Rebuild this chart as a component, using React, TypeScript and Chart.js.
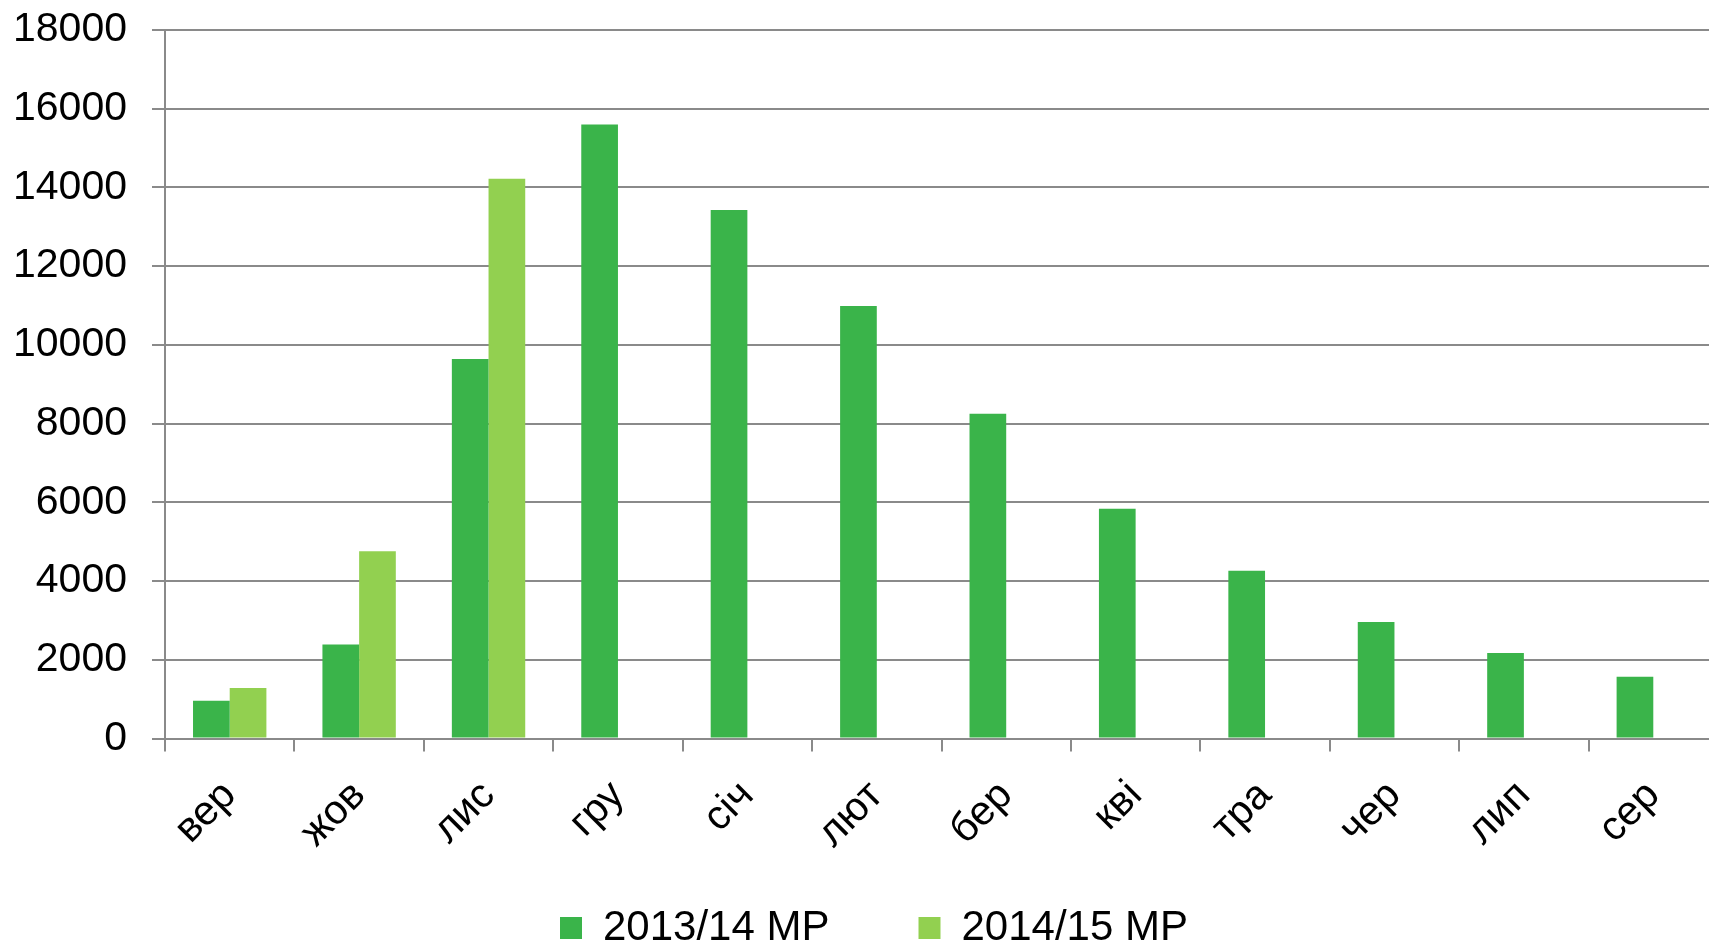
import React, { useEffect, useRef } from "react";
import { Chart, registerables } from "chart.js";

Chart.register(...registerables);

const categories = ["вер", "жов", "лис", "гру", "січ", "лют", "бер", "кві", "тра", "чер", "лип", "сер"];
const series2013 = [960, 2390, 9640, 15600, 13430, 10990, 8250, 5840, 4260, 2960, 2170, 1570];
const series2014: (number | null)[] = [1280, 4760, 14220, null, null, null, null, null, null, null, null, null];
const seriesNames = ["2013/14 МР", "2014/15 МР"];
const yTicks = { min: 0, max: 18000, step: 2000 };

const FONT = '"Liberation Sans", Arial, sans-serif';
const GRID = "#8a8a8a";

const unclip = {
  id: "unclip",
  afterLayout(chart: any) {
    const x = chart.scales.x;
    x.bottom = x.top + 160;
    const y = chart.scales.y;
    y.left = 0;
  },
};

export default function App() {
  const ref = useRef<HTMLCanvasElement>(null);

  useEffect(() => {
    document.body.style.margin = "0";
    const ctx = ref.current!;
    const chart = new Chart(ctx, {
      type: "bar",
      data: {
        labels: categories,
        datasets: [
          { label: seriesNames[0], data: series2013, backgroundColor: "#3AB44A" },
          { label: seriesNames[1], data: series2014, backgroundColor: "#92D050" },
        ],
      },
      plugins: [unclip],
      options: {
        responsive: false,
        animation: false,
        devicePixelRatio: 1,
        layout: { padding: { left: 30, right: 2, top: 30, bottom: 1 } },
        datasets: { bar: { categoryPercentage: 0.567, barPercentage: 1 } },
        plugins: {
          tooltip: { enabled: false },
          legend: {
            position: "bottom",
            labels: {
              boxWidth: 22,
              boxHeight: 22,
              padding: 89,
              color: "#000",
              font: { family: FONT, size: 42 },
            },
          },
        },
        scales: {
          x: {
            afterFit: (s: any) => { s.height = 79.5; },
            grid: { display: true, drawOnChartArea: false, drawTicks: true, tickLength: 13, color: GRID, lineWidth: 2, offset: true },
            border: { display: true, color: GRID, width: 2 },
            ticks: { color: "#000", font: { family: FONT, size: 41 }, minRotation: 45, maxRotation: 45, padding: 20, autoSkip: false },
          },
          y: {
            min: yTicks.min,
            max: yTicks.max,
            afterFit: (s: any) => { s.width = 135; s.paddingTop = 0; s.paddingBottom = 0; },
            grid: { color: GRID, lineWidth: 2, tickLength: 13, drawTicks: true },
            border: { display: true, color: GRID, width: 2 },
            ticks: {
              stepSize: yTicks.step,
              padding: 25,
              color: "#000",
              font: { family: FONT, size: 41 },
              callback: (v: any) => String(v),
            },
          },
        },
      },
    });
    return () => chart.destroy();
  }, []);

  return (
    <div style={{ position: "fixed", left: 0, top: 0, width: 1709, height: 947, overflow: "hidden", background: "#fff" }}>
      <canvas ref={ref} width={1720} height={960} style={{ display: "block" }} />
    </div>
  );
}
